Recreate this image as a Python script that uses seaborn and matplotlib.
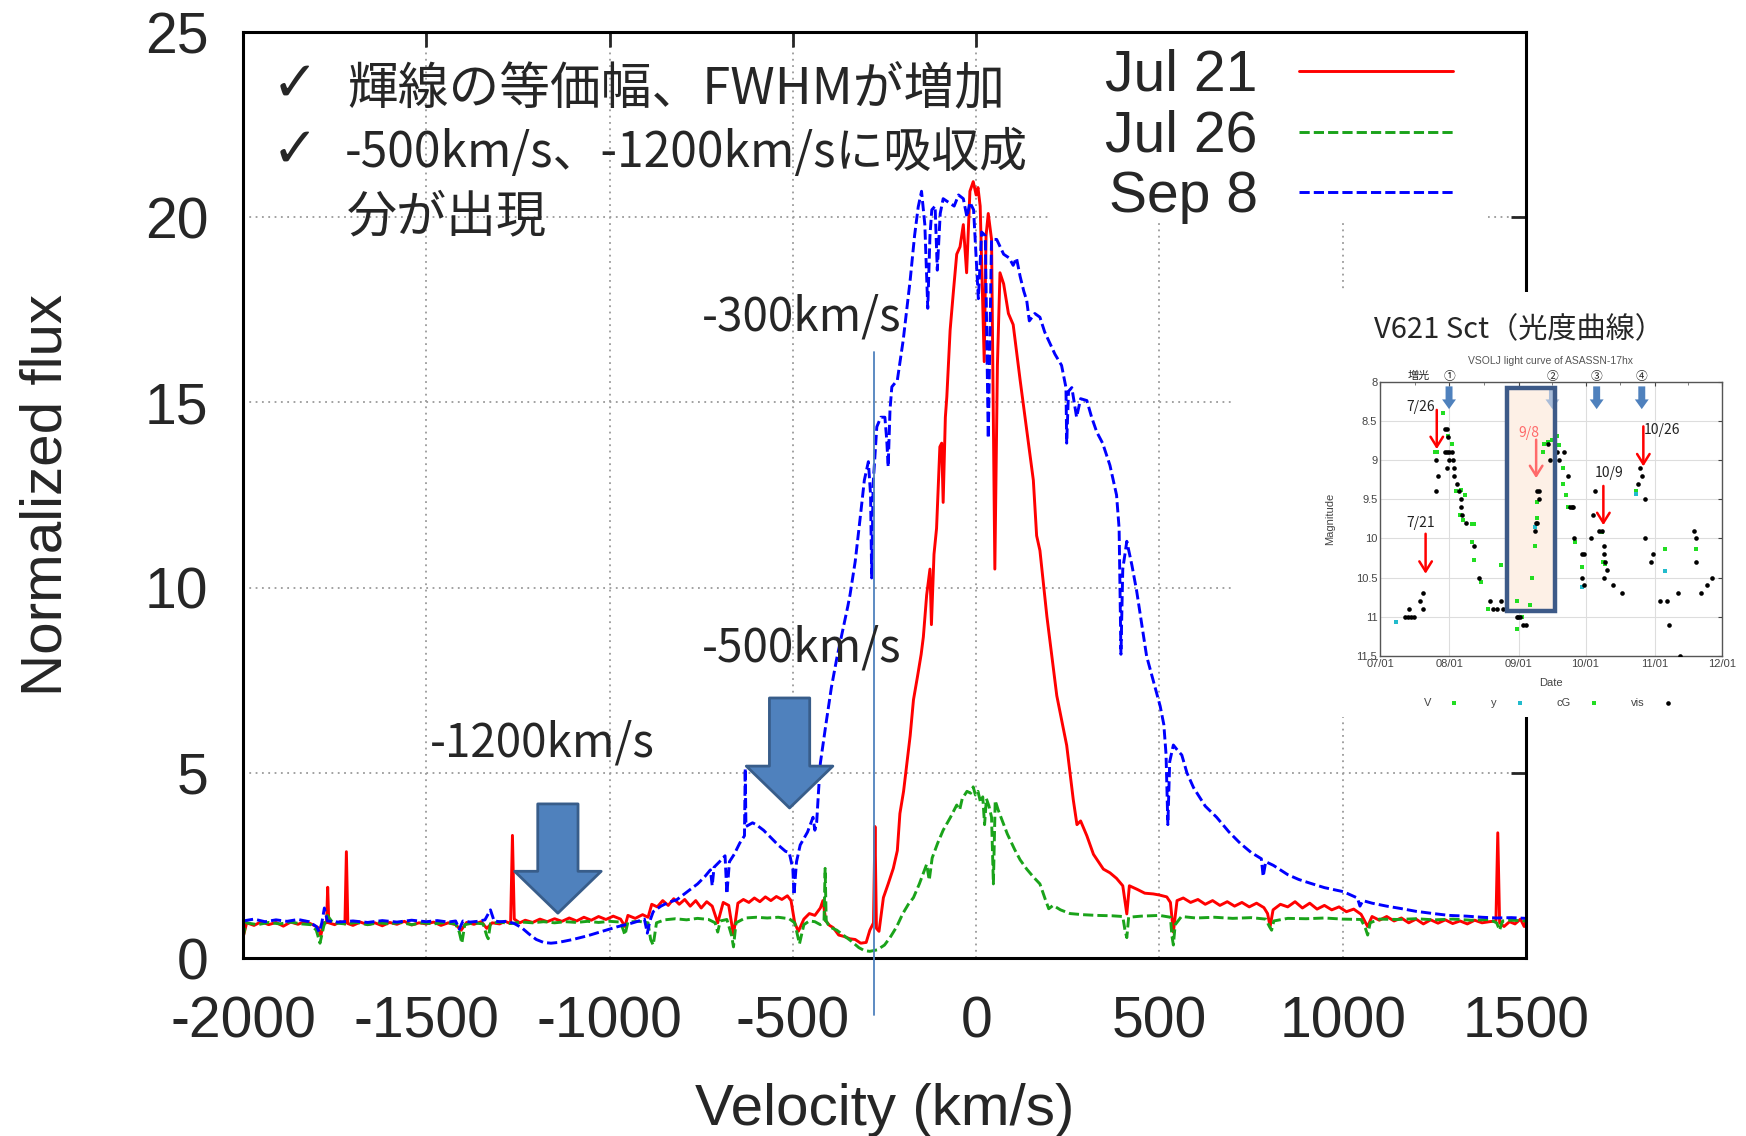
import numpy as np
import pandas as pd
import matplotlib
matplotlib.use('Agg')
import matplotlib.pyplot as plt
from matplotlib.patches import Rectangle
import seaborn as sns

sns.set_style('white')
plt.rcParams['font.family'] = ['Liberation Sans', 'DejaVu Sans']
plt.rcParams['axes.unicode_minus'] = False
CJK = ['Noto Sans CJK JP', 'DejaVu Sans']

# ---------------- main spectra (velocity km/s, normalized flux) ----------------
jul21_pts = [
    (-2000, 0.55), (-1990, 0.95), (-1970, 0.88), (-1950, 0.98), (-1930, 0.90), (-1910, 0.96),
    (-1890, 0.86), (-1870, 0.97), (-1850, 0.91), (-1830, 0.99), (-1810, 0.90), (-1795, 0.82),
    (-1788, 0.60), (-1780, 0.95), (-1772, 0.95), (-1769, 1.91), (-1766, 0.95), (-1750, 0.90),
    (-1735, 0.98), (-1722, 0.92), (-1718, 2.87), (-1714, 0.93), (-1700, 0.88), (-1680, 0.97),
    (-1660, 0.90), (-1640, 0.95), (-1620, 0.87), (-1600, 0.96), (-1580, 0.91), (-1560, 0.99),
    (-1540, 0.89), (-1520, 0.95), (-1500, 0.92), (-1480, 0.97), (-1460, 0.88), (-1440, 0.95),
    (-1420, 0.90), (-1405, 0.75), (-1390, 0.96), (-1370, 0.91), (-1350, 0.98), (-1335, 0.80),
    (-1320, 0.95), (-1300, 0.92), (-1285, 0.99), (-1270, 0.93), (-1265, 3.31), (-1260, 1.05),
    (-1245, 0.95), (-1230, 1.02), (-1210, 0.96), (-1190, 1.05), (-1170, 0.98), (-1150, 1.06),
    (-1130, 0.99), (-1110, 1.08), (-1090, 1.00), (-1070, 1.10), (-1050, 1.02), (-1030, 1.12),
    (-1010, 1.04), (-990, 1.13), (-970, 1.05), (-958, 0.85), (-950, 1.15), (-930, 1.07),
    (-910, 1.17), (-895, 1.10), (-885, 1.45), (-870, 1.38), (-855, 1.55), (-840, 1.42),
    (-825, 1.60), (-810, 1.45), (-795, 1.58), (-780, 1.40), (-765, 1.55), (-750, 1.35),
    (-735, 1.52), (-720, 1.40), (-705, 0.95), (-690, 1.50), (-675, 1.42), (-662, 0.62),
    (-650, 1.48), (-635, 1.58), (-620, 1.50), (-605, 1.62), (-590, 1.52), (-575, 1.65),
    (-560, 1.55), (-545, 1.66), (-530, 1.58), (-515, 1.68), (-505, 1.55), (-495, 0.95),
    (-485, 0.72), (-470, 1.05), (-455, 1.20), (-440, 1.15), (-425, 1.35), (-418, 1.55),
    (-410, 1.00), (-400, 0.88), (-390, 0.82), (-375, 0.62), (-360, 0.58), (-345, 0.52),
    (-330, 0.50), (-315, 0.40), (-300, 0.42), (-290, 0.75), (-280, 0.95), (-276, 3.55),
    (-272, 0.80), (-265, 0.72), (-253, 1.63), (-240, 2.00), (-226, 2.42), (-215, 2.90),
    (-208, 3.90), (-198, 4.50), (-189, 5.26), (-180, 6.00), (-171, 6.97), (-160, 7.60),
    (-150, 8.20), (-144, 8.67), (-135, 9.80), (-126, 10.50), (-122, 9.00), (-115, 10.90),
    (-108, 11.60), (-99, 13.80), (-94, 13.90), (-90, 12.30), (-84, 14.60), (-80, 15.15),
    (-71, 16.95), (-62, 18.00), (-53, 19.00), (-44, 19.20), (-35, 19.80), (-26, 18.50),
    (-17, 20.70), (-8, 20.96), (0, 20.60), (5, 20.80), (11, 20.30), (22, 16.10),
    (27, 19.50), (33, 20.10), (42, 19.40), (51, 10.50), (58, 16.00), (65, 18.50),
    (75, 18.20), (88, 17.40), (101, 17.10), (120, 15.60), (138, 14.25), (156, 12.90),
    (165, 11.40), (174, 11.00), (193, 9.22), (220, 7.08), (247, 5.74), (256, 5.00),
    (265, 4.27), (275, 3.60), (285, 3.70), (302, 3.30), (320, 2.80), (347, 2.40),
    (365, 2.30), (383, 2.15), (400, 1.95), (411, 1.19), (418, 1.95), (440, 1.85),
    (460, 1.75), (483, 1.73), (500, 1.70), (520, 1.65), (530, 1.50), (538, 0.70),
    (548, 1.55), (565, 1.62), (585, 1.50), (605, 1.58), (625, 1.45), (645, 1.55),
    (665, 1.42), (685, 1.52), (705, 1.40), (725, 1.50), (745, 1.38), (765, 1.48),
    (785, 1.36), (795, 1.20), (802, 0.85), (810, 1.30), (830, 1.45), (850, 1.38),
    (870, 1.52), (890, 1.35), (910, 1.48), (930, 1.32), (950, 1.42), (970, 1.30),
    (990, 1.38), (1010, 1.25), (1030, 1.32), (1050, 1.18), (1068, 0.85), (1080, 1.12),
    (1100, 1.02), (1120, 1.12), (1140, 1.00), (1160, 1.08), (1180, 0.95), (1200, 1.05),
    (1220, 0.92), (1240, 1.03), (1260, 0.94), (1280, 1.03), (1300, 0.93), (1320, 1.00),
    (1340, 0.92), (1360, 1.02), (1380, 0.95), (1400, 0.98), (1418, 1.00), (1423, 3.38),
    (1428, 0.95), (1440, 0.85), (1455, 0.98), (1470, 0.92), (1485, 1.05), (1495, 0.85),
    (1500, 1.00),
]

jul26_pts = [
    (-2000, 0.55), (-1992, 0.95), (-1960, 0.90), (-1930, 0.96), (-1900, 0.92), (-1870, 0.97),
    (-1840, 0.92), (-1815, 0.90), (-1800, 0.75), (-1790, 0.40), (-1780, 0.85), (-1770, 1.15),
    (-1755, 0.95), (-1720, 0.92), (-1690, 0.96), (-1660, 0.90), (-1630, 0.95), (-1600, 0.92),
    (-1570, 0.96), (-1540, 0.90), (-1510, 0.95), (-1480, 0.92), (-1450, 0.96), (-1420, 0.92),
    (-1410, 0.70), (-1403, 0.40), (-1395, 0.90), (-1370, 0.95), (-1345, 0.92), (-1335, 0.60),
    (-1331, 0.52), (-1325, 0.93), (-1300, 0.97), (-1270, 0.93), (-1240, 0.97), (-1210, 0.95),
    (-1180, 0.98), (-1150, 0.95), (-1120, 0.98), (-1090, 0.96), (-1060, 0.99), (-1030, 0.96),
    (-1000, 0.99), (-970, 0.97), (-958, 0.62), (-950, 0.97), (-920, 0.99), (-895, 0.95),
    (-888, 0.50), (-881, 0.35), (-872, 0.95), (-850, 1.03), (-820, 1.06), (-790, 1.03),
    (-760, 1.07), (-730, 1.04), (-712, 0.95), (-705, 0.70), (-698, 1.00), (-680, 1.04),
    (-667, 0.60), (-662, 0.30), (-655, 0.95), (-630, 1.08), (-600, 1.10), (-570, 1.08),
    (-540, 1.10), (-510, 1.06), (-495, 0.95), (-482, 0.38), (-470, 0.90), (-455, 1.00),
    (-440, 0.98), (-425, 0.90), (-415, 1.00), (-412, 2.42), (-409, 1.00), (-400, 0.84),
    (-380, 0.75), (-360, 0.60), (-340, 0.45), (-320, 0.28), (-305, 0.20), (-290, 0.18),
    (-270, 0.22), (-250, 0.35), (-235, 0.55), (-217, 0.84), (-200, 1.20), (-185, 1.45),
    (-171, 1.63), (-155, 2.00), (-135, 2.53), (-128, 2.10), (-120, 2.70), (-105, 3.10),
    (-90, 3.45), (-70, 3.80), (-53, 4.13), (-45, 4.00), (-38, 4.30), (-25, 4.50),
    (-15, 4.45), (-8, 4.62), (-2, 4.40), (5, 4.50), (12, 4.20), (18, 4.35),
    (23, 3.60), (28, 4.30), (35, 4.10), (42, 3.80), (47, 2.00), (52, 4.25),
    (60, 4.00), (70, 3.74), (85, 3.35), (105, 2.93), (120, 2.65), (138, 2.40),
    (155, 2.20), (174, 2.00), (188, 1.60), (198, 1.33), (210, 1.42), (230, 1.30),
    (256, 1.20), (290, 1.17), (330, 1.15), (370, 1.14), (400, 1.12), (406, 0.75),
    (411, 0.55), (416, 1.10), (450, 1.13), (500, 1.15), (530, 1.10), (534, 0.60),
    (538, 0.35), (543, 0.90), (560, 1.12), (600, 1.08), (650, 1.10), (700, 1.07),
    (750, 1.09), (790, 1.05), (800, 0.85), (806, 0.75), (812, 1.00), (850, 1.07),
    (900, 1.06), (950, 1.08), (1000, 1.05), (1050, 1.04), (1062, 0.80), (1068, 0.62),
    (1075, 0.95), (1100, 1.05), (1150, 1.04), (1200, 1.06), (1250, 1.03), (1300, 1.05),
    (1350, 1.02), (1400, 1.04), (1420, 0.95), (1428, 0.75), (1436, 1.00), (1460, 1.02),
    (1500, 1.00),
]

sep8_pts = [
    (-2000, 1.00), (-1970, 1.05), (-1940, 0.98), (-1910, 1.03), (-1880, 0.99), (-1850, 1.04),
    (-1820, 0.98), (-1800, 0.85), (-1792, 0.70), (-1785, 0.95), (-1778, 1.35), (-1770, 1.00),
    (-1740, 0.97), (-1700, 1.00), (-1660, 0.96), (-1620, 1.01), (-1580, 0.97), (-1540, 1.02),
    (-1500, 0.98), (-1470, 1.01), (-1440, 0.97), (-1420, 1.00), (-1410, 0.78), (-1400, 1.00),
    (-1380, 0.97), (-1360, 0.99), (-1340, 1.03), (-1325, 1.30), (-1315, 1.00), (-1300, 0.98),
    (-1280, 0.99), (-1260, 0.93), (-1240, 0.82), (-1220, 0.65), (-1200, 0.50), (-1180, 0.42),
    (-1160, 0.40), (-1140, 0.42), (-1120, 0.46), (-1100, 0.50), (-1080, 0.55), (-1060, 0.60),
    (-1040, 0.66), (-1020, 0.72), (-1000, 0.78), (-980, 0.84), (-960, 0.89), (-940, 0.94),
    (-920, 1.00), (-905, 1.05), (-897, 0.67), (-890, 1.00), (-881, 1.25), (-860, 1.40),
    (-840, 1.50), (-817, 1.57), (-800, 1.70), (-780, 1.85), (-760, 2.00), (-740, 2.20),
    (-725, 2.38), (-720, 1.95), (-715, 2.45), (-700, 2.60), (-685, 2.76), (-680, 1.73),
    (-673, 2.60), (-660, 2.80), (-645, 3.10), (-632, 3.30), (-630, 5.12), (-628, 3.55),
    (-610, 3.65), (-600, 3.60), (-580, 3.45), (-560, 3.25), (-540, 3.05), (-520, 2.88),
    (-510, 2.85), (-500, 2.40), (-497, 1.70), (-490, 2.60), (-480, 3.05), (-460, 3.40),
    (-445, 3.80), (-440, 3.45), (-435, 3.67), (-430, 4.50), (-425, 5.26), (-410, 6.30),
    (-395, 7.30), (-380, 8.10), (-365, 8.80), (-350, 9.50), (-344, 9.81), (-330, 10.70),
    (-315, 12.00), (-305, 12.90), (-294, 13.40), (-288, 12.50), (-285, 10.26), (-281, 12.80),
    (-271, 14.34), (-260, 14.60), (-249, 14.60), (-244, 14.00), (-240, 13.26), (-235, 14.80),
    (-230, 15.42), (-215, 15.60), (-199, 16.68), (-180, 18.30), (-168, 19.50), (-158, 20.28),
    (-149, 20.70), (-140, 19.80), (-132, 17.54), (-126, 19.50), (-121, 20.20), (-112, 20.30),
    (-106, 18.57), (-98, 20.10), (-90, 20.50), (-75, 20.40), (-60, 20.30), (-48, 20.60),
    (-35, 20.50), (-25, 20.00), (-17, 20.40), (-7, 20.20), (6, 17.80), (15, 19.60),
    (25, 19.50), (33, 14.03), (42, 19.40), (56, 19.40), (75, 19.00), (90, 18.90),
    (101, 18.70), (110, 18.90), (120, 18.40), (130, 18.00), (138, 17.75), (145, 17.20),
    (160, 17.40), (174, 17.30), (187, 16.90), (201, 16.60), (215, 16.30), (233, 16.00),
    (245, 15.40), (247, 13.90), (252, 15.30), (261, 15.40), (274, 14.60), (285, 15.10),
    (302, 15.05), (315, 14.60), (329, 14.20), (345, 13.90), (365, 13.30), (383, 12.50),
    (390, 11.60), (395, 8.20), (400, 10.50), (411, 11.25), (425, 10.60), (438, 9.90),
    (452, 9.00), (465, 8.15), (480, 7.60), (502, 6.80), (512, 6.30), (518, 5.50),
    (523, 3.60), (528, 5.30), (538, 5.75), (550, 5.60), (561, 5.48), (575, 5.00),
    (593, 4.60), (625, 4.10), (656, 3.80), (690, 3.40), (720, 3.10), (750, 2.85),
    (778, 2.68), (783, 2.20), (790, 2.60), (811, 2.50), (850, 2.25), (880, 2.12),
    (911, 2.02), (950, 1.90), (1002, 1.79), (1040, 1.62), (1047, 1.40), (1055, 1.55),
    (1080, 1.48), (1120, 1.40), (1156, 1.34), (1200, 1.26), (1247, 1.20), (1290, 1.15),
    (1338, 1.13), (1380, 1.10), (1420, 1.08), (1460, 1.09), (1500, 1.07),
]

series_names = ['Jul 21', 'Jul 26', 'Sep 8']
x_ticks = [-2000, -1500, -1000, -500, 0, 500, 1000, 1500]
y_ticks = [0, 5, 10, 15, 20, 25]

# annotation data (velocity, flux)
block_arrows = [(-1141, 1.21, 4.16), (-509, 4.05, 7.02)]   # (v, tip flux, tail flux)
vline_v, vline_top, vline_bottom = -280, 16.35, -1.54
vel_labels = [('-300km/s', -476, 17.3), ('-500km/s', -476, 8.37), ('-1200km/s', -1183, 5.81)]
bullet_lines = ['輝線の等価幅、FWHMが増加', '-500km/s、-1200km/sに吸収成', '分が出現']

# ---------------- inset light curve (days since 07/01, magnitude) ----------------
vis_pts = [
    (11.2, 11.0), (12.5, 11.0), (13.8, 11.0), (15.0, 11.0), (13.1, 10.9), (17.9, 10.8),
    (19.1, 10.9), (19.1, 10.7), (25.1, 9.0), (25.1, 9.4), (26.1, 9.2), (29.1, 8.6),
    (29.9, 8.6), (30.6, 8.7), (29.1, 8.9), (30.1, 8.9), (31.1, 8.9), (32.1, 8.9),
    (29.9, 9.1), (30.9, 9.0), (32.8, 9.0), (33.3, 9.1), (33.3, 9.2), (34.3, 9.3),
    (35.5, 9.4), (36.3, 9.5), (36.3, 9.6), (36.9, 9.7), (38.4, 9.8), (42.2, 10.1),
    (44.3, 10.5), (49.3, 10.8), (50.4, 10.9), (52.2, 10.9), (54.2, 10.8), (55.2, 10.9),
    (61.2, 11.0), (61.9, 11.0), (62.7, 11.0), (64.2, 11.1), (65.4, 11.1), (69.4, 9.9),
    (69.7, 9.8), (70.4, 9.8), (70.1, 9.4), (71.2, 9.4), (71.2, 9.5), (75.4, 8.8),
    (76.1, 9.0), (79.1, 8.9), (80.3, 9.0), (82.4, 8.9), (84.3, 9.2), (85.1, 9.6),
    (85.8, 9.6), (86.6, 9.6), (87.0, 10.0), (90.3, 10.2), (91.3, 10.2), (90.3, 10.5),
    (91.3, 10.6), (94.3, 10.0), (95.2, 9.7), (96.3, 9.4), (98.2, 9.9), (99.3, 9.9),
    (100.3, 10.1), (100.3, 10.2), (100.7, 10.3), (101.5, 10.4), (100.3, 10.5), (104.5, 10.6),
    (108.5, 10.7), (115.4, 9.3), (116.4, 9.1), (117.5, 9.2), (118.7, 9.5), (118.7, 10.0),
    (121.3, 10.3), (122.4, 10.2), (125.4, 10.8), (128.4, 10.8), (129.4, 11.1), (133.6, 10.7),
    (134.3, 11.5), (140.6, 9.9), (141.5, 10.0), (141.5, 10.3), (143.7, 10.7), (146.6, 10.6),
    (148.8, 10.5),
]
V_pts = [
    (28.1, 8.4), (24.6, 8.9), (25.7, 8.9), (32.1, 8.8), (33.9, 9.4), (36.3, 9.38),
    (38.1, 9.45), (35.8, 9.7), (37.3, 9.76), (41.0, 9.81), (42.0, 9.81), (41.0, 10.05),
    (42.1, 10.27), (45.2, 10.55), (48.2, 10.9), (54.2, 10.34), (61.2, 11.15), (61.5, 10.8),
    (63.4, 11.0), (67.2, 10.85), (68.2, 10.5), (69.4, 10.1), (70.1, 9.53), (73.1, 8.9),
    (73.4, 8.79), (75.4, 8.77), (79.4, 8.69), (80.3, 8.81), (82.1, 9.1), (82.1, 9.3),
    (83.1, 9.45), (84.0, 9.6), (87.3, 10.05), (90.3, 10.37), (99.3, 9.92), (100.0, 10.3),
    (114.5, 9.4), (127.6, 10.14), (141.5, 10.14),
]
cG_pts = [(30.6, 8.69), (77.0, 8.74), (100.6, 10.33), (70.4, 9.74)]
y_pts = [(7.0, 11.07), (69.4, 9.86), (90.3, 10.62), (114.5, 9.43), (127.6, 10.42)]

month_days = [0, 31, 62, 92, 123, 153]
month_labels = ['07/01', '08/01', '09/01', '10/01', '11/01', '12/01']
mag_ticks = [8, 8.5, 9, 9.5, 10, 10.5, 11, 11.5]
mag_labels = ['8', '8.5', '9', '9.5', '10', '10.5', '11', '11.5']

period_box = (56.7, 78.4, 8.08, 10.93)          # days, mags
phase_marks = [('①', 30.9), ('②', 77.2), ('③', 97.0), ('④', 117.2)]
obs_marks = [('7/21', 20.4, 9.94, 10.45, 18.2, 9.80), ('7/26', 25.4, 8.36, 8.86, 18.2, 8.32),
             ('9/8', 69.9, 8.74, 9.23, 66.7, 8.65), ('10/9', 100.0, 9.33, 9.83, 102.8, 9.16),
             ('10/26', 117.9, 8.57, 9.08, 126.3, 8.61)]

# ---------------- figure ----------------
fig = plt.figure(figsize=(17.46, 11.36), dpi=100)
ax = fig.add_axes([0.13918, 0.15669, 0.73482, 0.81514])

grid_kw = dict(color='#9a9a9a', lw=1.3, linestyle=(0, (1, 2.5)), zorder=0.5)
ax.vlines(x_ticks[1:-1], y_ticks[0], y_ticks[-1], **grid_kw)
ax.hlines(y_ticks[1:-1], x_ticks[0], x_ticks[-1], **grid_kw)
# opaque key area (gnuplot style)
ax.add_patch(Rectangle((0.629, 0.795), 0.341, 0.205, transform=ax.transAxes,
                       fc='white', ec='none', zorder=1))

styles = [('#ff0000', '-', 2.1), ('#1aa31a', (0, (3.5, 1.4)), 2.3), ('#0000ff', (0, (3.5, 1.4)), 2.4)]
for name, pts, (col, ls, z) in zip(series_names, [jul21_pts, jul26_pts, sep8_pts], styles):
    df = pd.DataFrame(pts, columns=['v', 'f'])
    sns.lineplot(data=df, x='v', y='f', ax=ax, color=col, lw=2.1, linestyle=ls,
                 label=name, sort=False, estimator=None, zorder=z)

ax.set_xlim(x_ticks[0], x_ticks[-1])
ax.set_ylim(y_ticks[0], y_ticks[-1])
ax.set_xticks(x_ticks)
ax.set_yticks(y_ticks)
ax.tick_params(direction='in', top=True, right=True, length=11, width=2, labelsize=41)
ax.tick_params(axis='x', pad=27)
ax.tick_params(axis='y', pad=25)
for s in ax.spines.values():
    s.set_linewidth(2.2)
    s.set_color('black')
ax.set_xlabel('Velocity (km/s)', fontsize=42)
ax.set_ylabel('Normalized flux', fontsize=42)
ax.xaxis.set_label_coords(0.5, -0.135)
ax.yaxis.set_label_coords(-0.1325, 0.5)

ax.legend(loc='upper right', bbox_to_anchor=(0.943, 0.982), frameon=False, markerfirst=False,
          fontsize=41, handlelength=2.7, handletextpad=0.73, labelspacing=0.12,
          borderpad=0, borderaxespad=0)

# annotations
for v, tip, tail in block_arrows:
    ax.annotate('', xy=(v, tip), xytext=(v, tail),
                arrowprops=dict(arrowstyle='simple,head_length=1.04,head_width=2.15,tail_width=1.0',
                                mutation_scale=29, fc='#4f81bd', ec='#385d8a', lw=2,
                                shrinkA=0, shrinkB=0), zorder=6)
ax.plot([vline_v, vline_v], [vline_top, vline_bottom], color='#4f81bd', lw=1.3,
        clip_on=False, zorder=6)
for txt, v, f in vel_labels:
    ax.text(v, f, txt, fontsize=33, family=CJK, ha='center', va='center', zorder=7)

ax.text(0.0405, 0.942, '✓', transform=ax.transAxes, fontsize=40, family=['DejaVu Sans'],
        ha='center', va='center')
ax.text(0.0405, 0.871, '✓', transform=ax.transAxes, fontsize=40, family=['DejaVu Sans'],
        ha='center', va='center')
for txt, xf, yf, fs in zip(bullet_lines, [0.081, 0.0795, 0.081], [0.937, 0.869, 0.800],
                           [36.5, 34.5, 36]):
    ax.text(xf, yf, txt, transform=ax.transAxes, fontsize=fs, family=CJK,
            ha='left', va='center')

# ---------------- inset ----------------
fig.add_artist(Rectangle((0.7068, 0.3688), 0.2932, 0.3742, transform=fig.transFigure,
                         fc='white', ec='none', zorder=2))
fig.text(0.870, 0.7095, 'V621 Sct（光度曲線）', fontsize=21, family=CJK,
         ha='center', va='center', zorder=4)

axi = fig.add_axes([0.7904, 0.4225, 0.1957, 0.2415])
axi.set_zorder(3)
d0, d1, m0, m1 = period_box
axi.add_patch(Rectangle((d0, m0), d1 - d0, m1 - m0, fc='#fdf0e6', ec='none', zorder=1))

for pts, lab, col, mk, s in [(V_pts, 'V', '#22dd22', 's', 9), (y_pts, 'y', '#22bbcc', 's', 9),
                              (cG_pts, 'cG', '#22dd22', 's', 9), (vis_pts, 'vis', 'black', 'o', 11)]:
    dfi = pd.DataFrame(pts, columns=['d', 'm'])
    sns.scatterplot(data=dfi, x='d', y='m', ax=axi, color=col, marker=mk, s=s,
                    linewidth=0, label=lab, zorder=4)

axi.add_patch(Rectangle((d0, m0), d1 - d0, m1 - m0, fc='none', ec='#3d5a88', lw=3.2, zorder=5))

axi.set_xlim(month_days[0], month_days[-1])
axi.set_ylim(mag_ticks[-1], mag_ticks[0])
axi.set_xticks(month_days)
axi.set_xticklabels(month_labels)
axi.set_yticks(mag_ticks)
axi.set_yticklabels(mag_labels)
axi.set_xticks([15.5, 46.5, 77, 107.5, 138], minor=True)
axi.grid(True, which='major', color='#dddddd', lw=0.8)
axi.set_axisbelow(True)
axi.tick_params(direction='in', top=True, right=True, length=3, width=0.8, labelsize=8,
                colors='#444444', pad=2)
axi.tick_params(which='minor', direction='in', top=True, length=2, width=0.6, colors='#666666')
for s in axi.spines.values():
    s.set_linewidth(1.0)
    s.set_color('#555555')
axi.set_xlabel('Date', fontsize=8, color='#444444')
axi.set_ylabel('Magnitude', fontsize=8, color='#444444')
axi.xaxis.set_label_coords(0.5, -0.08)
axi.yaxis.set_label_coords(-0.132, 0.5)
axi.text(0.5, 1.075, 'VSOLJ light curve of ASASSN-17hx', transform=axi.transAxes,
         fontsize=7.5, color='#555555', ha='center', va='center')

handles, labels = axi.get_legend_handles_labels()
axi.legend(handles, labels, ncol=4, markerfirst=False, frameon=False, fontsize=8,
           loc='center', bbox_to_anchor=(0.49, -0.171), columnspacing=3.0,
           handletextpad=1.8, handlelength=0.6, labelcolor='#444444')

axi.text(17.2, 7.92, '増光', fontsize=8, family=CJK, ha='center', va='center')
for lab, d in phase_marks:
    col = '#a9bcd8' if lab == '②' else '#4f81bd'
    axi.annotate('', xy=(d, 8.35), xytext=(d, 8.06),
                 arrowprops=dict(arrowstyle='simple,head_length=0.7,head_width=1.0,tail_width=0.5',
                                 mutation_scale=10, fc=col, ec='none', shrinkA=0, shrinkB=0),
                 zorder=3 if lab == '②' else 6)
    axi.text(d, 7.93, lab, fontsize=8.5, family=CJK, ha='center', va='center')

for lab, d, m_tail, m_tip, tx, ty in obs_marks:
    col = '#ff6a6a' if lab == '9/8' else '#ff0000'
    tcol = '#ff6a6a' if lab == '9/8' else '#222222'
    axi.annotate('', xy=(d, m_tip), xytext=(d, m_tail),
                 arrowprops=dict(arrowstyle='->,head_length=0.4,head_width=0.25',
                                 mutation_scale=18, color=col, lw=1.8, shrinkA=0, shrinkB=0),
                 zorder=6)
    axi.text(tx, ty, lab, fontsize=10, family=CJK, color=tcol, ha='center', va='center', zorder=6)

fig.savefig('out.png', dpi=100)
